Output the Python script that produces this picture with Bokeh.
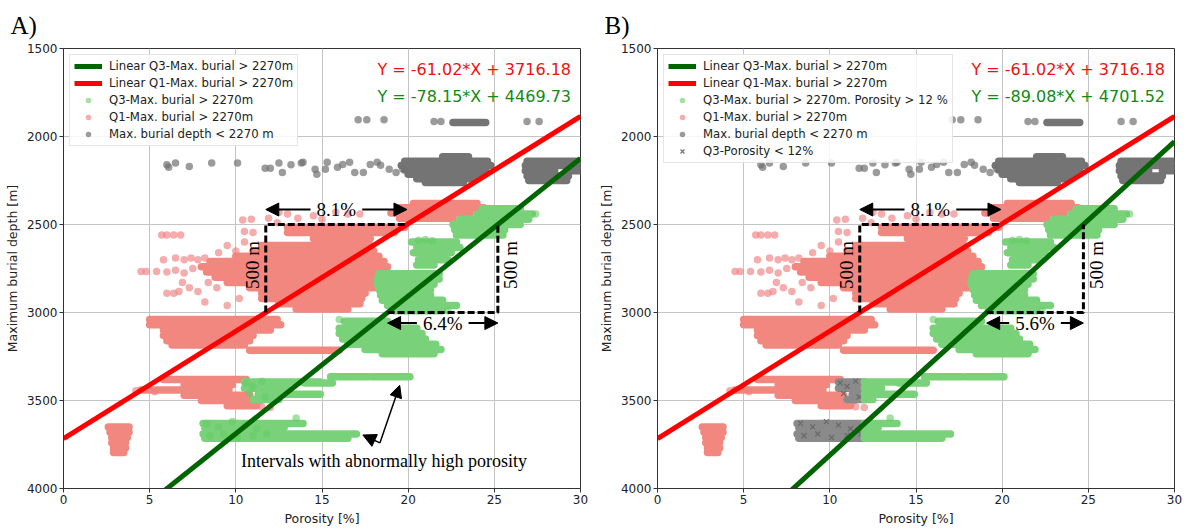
import math
from bokeh.plotting import figure
from bokeh.layouts import row
from bokeh.models import Range1d, FixedTicker, Legend, LegendItem, Label, Arrow, NormalHead
from bokeh.embed import file_html
from bokeh.resources import INLINE

# ---------------- data ----------------
x_ticks = [0, 5, 10, 15, 20, 25, 30]
y_ticks = [1500, 2000, 2500, 3000, 3500, 4000]

q1_fit = (-61.02, 3716.18)
q3_fit_a = (-78.15, 4469.73)
q3_fit_b = (-89.08, 4701.52)
eq_q1 = "Y = -61.02*X + 3716.18"
eq_q3_a = "Y = -78.15*X + 4469.73"
eq_q3_b = "Y = -89.08*X + 4701.52"
pct_q1 = "8.1%"
pct_q3_a = "6.4%"
pct_q3_b = "5.6%"
porosity_cut = 12
box_depths = (2500, 3000)

# dense horizontal runs of points: start porosity, end porosity, depth
gray_row_x0 = [22.6, 22.0, 19.8, 19.6, 19.8, 20.0, 20.5, 21.0, 26.9, 26.8, 26.8, 29.3, 26.9, 27.0]
gray_row_x1 = [24.5, 23.5, 24.6, 24.8, 24.5, 24.4, 24.0, 23.2, 30.0, 30.0, 28.5, 30.0, 29.3, 29.2]
gray_row_y = [1920, 2115, 2140, 2165, 2190, 2215, 2240, 2262, 2140, 2165, 2195, 2195, 2225, 2250]

gray_pt_x = [17.1, 17.6, 18.6, 21.5, 21.9, 26.9, 27.6, 6.0, 6.5, 6.1, 7.3, 8.6, 10.1, 11.7, 12.0, 12.5,
             12.7, 13.2, 13.8, 13.9, 14.6, 14.7, 15.2, 15.3, 15.9, 16.2, 16.6, 16.9, 17.4, 17.8, 18.2,
             18.4, 18.9, 19.3, 19.7]
gray_pt_y = [1905, 1905, 1905, 1915, 1915, 1915, 1915, 2160, 2150, 2175, 2170, 2150, 2150, 2180, 2180, 2150,
             2205, 2160, 2150, 2147, 2186, 2214, 2186, 2147, 2175, 2159, 2147, 2204, 2204, 2159, 2147,
             2164, 2186, 2204, 2186]

q1_row_x0 = [20.3, 19.5, 19.0, 19.5, 13.0, 13.0, 14.5, 11.5, 11.0, 10.0, 8.5, 8.0, 8.3, 8.8, 9.5, 10.8,
             11.5, 11.5, 12.5, 13.5, 5.0, 5.0, 5.8, 5.8, 6.0, 6.3, 10.8, 5.8, 7.0, 4.5, 7.0, 8.0, 9.5,
             2.6, 2.7, 2.8, 2.8, 2.9, 2.9]
q1_row_x1 = [24.0, 24.4, 23.6, 22.6, 19.8, 19.2, 17.8, 17.8, 18.0, 18.3, 18.6, 18.8, 18.8, 18.8, 18.5, 18.0,
             17.5, 17.3, 17.2, 16.5, 12.4, 12.6, 12.0, 11.0, 10.8, 10.5, 16.0, 10.6, 9.8, 9.6, 10.8, 11.4, 11.2,
             3.8, 3.8, 3.7, 3.6, 3.6, 3.5]
q1_row_y = [2380, 2405, 2435, 2465, 2515, 2545, 2580, 2620, 2650, 2680, 2710, 2740, 2770, 2800, 2830, 2860,
            2890, 2920, 2950, 2980, 3040, 3070, 3100, 3130, 3160, 3185, 3215, 3380, 3410, 3440, 3470, 3500, 3530,
            3650, 3680, 3710, 3740, 3770, 3795]

q1_pt_x = [4.5, 4.8, 5.4, 5.7, 6.0, 6.4, 6.8, 5.8, 6.5, 7.0, 7.4, 7.8, 8.2, 6.0, 6.5, 7.0, 6.0, 6.4, 6.7,
           7.3, 7.8, 8.4, 8.9, 10.4, 10.9, 10.5, 11.0, 11.9, 12.4, 12.5, 13.0, 13.6, 14.5, 15.0, 15.8, 16.5,
           17.2, 9.5, 10.0, 10.5, 9.0, 7.5, 6.9, 8.2, 9.5, 10.2, 4.2, 5.3, 11.5, 12.0]
q1_pt_y = [2767, 2767, 2767, 2560, 2560, 2560, 2560, 2700, 2690, 2700, 2690, 2700, 2690, 2770, 2760, 2775,
           2890, 2890, 2880, 2860, 2880, 2830, 2860, 2475, 2470, 2540, 2545, 2465, 2490, 2430, 2440, 2465,
           2450, 2470, 2430, 2440, 2440, 2620, 2650, 2600, 2660, 2750, 2830, 2940, 2960, 2920, 3445, 3450,
           3535, 3540]

q3_row_x0 = [24.3, 24.0, 23.0, 22.6, 22.7, 22.8, 20.2, 20.5, 20.3, 20.6, 20.5, 18.3, 18.2, 18.2, 18.3, 18.4,
             18.5, 18.8, 19.2, 16.3, 16.0, 16.0, 16.2, 16.5, 17.5, 18.5, 15.5, 17.9, 14.0, 10.5, 10.5, 11.3,
             11.0, 8.1, 8.2, 8.1, 8.2]
q3_row_x1 = [26.5, 27.2, 27.0, 26.5, 25.6, 25.5, 22.8, 23.0, 22.5, 22.3, 21.5, 21.8, 21.8, 21.5, 21.3, 21.3,
             22.0, 22.8, 22.0, 18.8, 20.5, 20.8, 21.0, 21.6, 21.9, 21.5, 17.7, 20.1, 15.6, 14.9, 13.0, 14.9,
             12.5, 13.9, 12.8, 17.0, 16.5]
q3_row_y = [2410, 2440, 2470, 2500, 2530, 2560, 2600, 2630, 2660, 2700, 2730, 2780, 2810, 2840, 2870, 2900,
            2930, 2960, 2990, 3050, 3090, 3120, 3150, 3180, 3210, 3235, 3365, 3365, 3400, 3395, 3430, 3465,
            3495, 3630, 3655, 3690, 3715]

q3_pt_x = [27.4, 21.0, 20.6, 21.4, 16.0, 22.3, 10.6, 11.0, 11.5, 10.8, 11.7, 8.3, 9.0, 9.8, 10.5, 11.2,
           8.5, 9.3, 10.1, 11.0, 11.8, 13.5]
q3_pt_y = [2440, 2585, 2590, 2592, 3040, 2990, 3400, 3420, 3390, 3460, 3480, 3630, 3650, 3620, 3640, 3660,
           3700, 3690, 3710, 3700, 3690, 3600]

# ---------------- styles ----------------
C_GRAY = "#707070"
C_GRAY_DENSE = "#747474"
C_Q1 = "#F08080"
C_Q1_DENSE = "#F2877F"
C_Q3 = "#66CC66"
C_Q3_DENSE = "#79D179"
C_RED = "#FF0000"
C_DGREEN = "#006400"
SANS = "DejaVu Sans"
SERIF = "Liberation Serif"
MS = 7.5


def xfit(fit, depth):
    m, b = fit
    return (depth - b) / m


def make_panel(tag, q3_fit, eq_q3, pct_q3, split, width, right_border, q3_label, annotate):
    p = figure(width=width, height=528, x_range=Range1d(0, 30), y_range=Range1d(4000, 1500),
               output_backend="svg", toolbar_location=None,
               min_border_left=63, min_border_right=right_border, min_border_top=46, min_border_bottom=38)
    p.background_fill_color = "white"
    p.border_fill_color = "white"
    p.outline_line_color = "#333333"
    p.outline_line_width = 1

    # panel tag as title
    p.title.text = tag
    p.title.align = "left"
    p.title.offset = -53
    p.title.standoff = 19
    p.title.text_line_height = 1.0
    p.title.text_font = SERIF
    p.title.text_font_size = "25px"
    p.title.text_font_style = "normal"
    p.title.text_color = "black"

    p.xaxis.ticker = FixedTicker(ticks=x_ticks)
    p.yaxis.ticker = FixedTicker(ticks=y_ticks)
    for ax in (p.xaxis[0], p.yaxis[0]):
        ax.major_label_text_font = SANS
        ax.major_label_text_font_size = "12px"
        ax.major_label_text_color = "#222222"
        ax.axis_label_text_font = SANS
        ax.axis_label_text_font_size = "12.5px"
        ax.axis_label_text_font_style = "normal"
        ax.axis_label_text_color = "#222222"
        ax.minor_tick_line_color = None
        ax.major_tick_in = 0
        ax.major_tick_out = 4
        ax.major_tick_line_color = "#333333"
        ax.axis_line_color = "#333333"
        ax.major_label_standoff = 2
        ax.axis_label_standoff = 4
    p.xaxis.axis_label = "Porosity [%]"
    p.yaxis.axis_label = "Maximum burial depth [m]"
    p.grid.grid_line_color = "#c4c4c4"
    p.grid.grid_line_width = 1

    # gray: shallow burial
    p.segment(x0=gray_row_x0, y0=gray_row_y, x1=gray_row_x1, y1=gray_row_y, line_width=MS,
              line_cap="round", line_color=C_GRAY_DENSE)
    r_gray = p.scatter(gray_pt_x, gray_pt_y, size=MS, marker="circle", fill_color=C_GRAY,
                       line_color=None, fill_alpha=0.7)
    # Q1
    p.segment(x0=q1_row_x0, y0=q1_row_y, x1=q1_row_x1, y1=q1_row_y, line_width=MS,
              line_cap="round", line_color=C_Q1_DENSE)
    r_q1 = p.scatter(q1_pt_x, q1_pt_y, size=MS, marker="circle", fill_color=C_Q1,
                     line_color=None, fill_alpha=0.65)
    # Q3
    r_low = None
    if split:
        gx0, gx1, gy, lx0, lx1, ly = [], [], [], [], [], []
        for a, b, d in zip(q3_row_x0, q3_row_x1, q3_row_y):
            if b > porosity_cut:
                gx0.append(max(a, porosity_cut)); gx1.append(b); gy.append(d)
            if a < porosity_cut:
                lx0.append(a); lx1.append(min(b, porosity_cut)); ly.append(d)
        hx = [x for x in q3_pt_x if x >= porosity_cut]
        hy = [y for x, y in zip(q3_pt_x, q3_pt_y) if x >= porosity_cut]
        kx = [x for x in q3_pt_x if x < porosity_cut]
        ky = [y for x, y in zip(q3_pt_x, q3_pt_y) if x < porosity_cut]
        p.segment(x0=lx0, y0=ly, x1=lx1, y1=ly, line_width=MS, line_cap="round",
                  line_color="#8a8a8a")
        r_low = p.scatter(kx, ky, size=7, marker="x", line_color="#666666", line_width=1.3, line_alpha=0.9)
    else:
        gx0, gx1, gy = q3_row_x0, q3_row_x1, q3_row_y
        hx, hy = q3_pt_x, q3_pt_y
    p.segment(x0=gx0, y0=gy, x1=gx1, y1=gy, line_width=MS, line_cap="round",
              line_color=C_Q3_DENSE)
    r_q3 = p.scatter(hx, hy, size=MS, marker="circle", fill_color=C_Q3, line_color=None, fill_alpha=0.6)

    # regression lines
    xs = [0, 30]
    r_l1 = p.line(xs, [q1_fit[0] * x + q1_fit[1] for x in xs], line_width=5, line_color=C_RED)
    r_l3 = p.line(xs, [q3_fit[0] * x + q3_fit[1] for x in xs], line_width=5, line_color=C_DGREEN)

    # dashed boxes
    top, bot = box_depths
    a1, b1 = xfit(q1_fit, bot), xfit(q1_fit, top)
    a3, b3 = xfit(q3_fit, bot), xfit(q3_fit, top)
    p.line([a1, a1, b1], [bot, top, top], line_width=3, line_color="black", line_dash="7 3")
    p.line([a3, b3, b3], [bot, bot, top], line_width=3, line_color="black", line_dash="7 3")

    def dbl_arrow(xa, xb, y, txt):
        mid = (xa + xb) / 2
        gap = 1.5
        for xs_, xe in ((mid - gap, xa), (mid + gap, xb)):
            p.add_layout(Arrow(end=NormalHead(size=13, fill_color="black", line_color="black"),
                               x_start=xs_, y_start=y, x_end=xe, y_end=y,
                               line_width=2, line_color="black"))
        p.add_layout(Label(x=mid, y=y, text=txt, text_align="center", text_baseline="middle",
                           text_font=SERIF, text_font_size="19px", text_color="black"))

    dbl_arrow(a1, b1, 2415, pct_q1)
    dbl_arrow(a3, b3, 3060, pct_q3)
    mid_box = (top + bot) / 2 - 20
    p.add_layout(Label(x=a1, y=mid_box, x_offset=-13, text="500 m", angle=math.pi / 2,
                       text_align="center", text_baseline="middle", text_font=SERIF,
                       text_font_size="19px", text_color="black"))
    p.add_layout(Label(x=b3, y=mid_box, x_offset=13, text="500 m", angle=math.pi / 2,
                       text_align="center", text_baseline="middle", text_font=SERIF,
                       text_font_size="19px", text_color="black"))

    # equations
    p.add_layout(Label(x=29.45, y=1618, text=eq_q1, text_align="right", text_baseline="middle",
                       text_font=SANS, text_font_size="16px", text_color="#ee1111"))
    p.add_layout(Label(x=29.45, y=1770, text=eq_q3, text_align="right", text_baseline="middle",
                       text_font=SANS, text_font_size="16px", text_color="#138a13"))

    if annotate:
        tail = (18.36, 3741)
        for head, size in (((19.51, 3414), 12), ((17.37, 3696), 13)):
            p.add_layout(Arrow(end=NormalHead(size=size, fill_color="black", line_color="black"),
                               x_start=tail[0], y_start=tail[1], x_end=head[0], y_end=head[1],
                               line_width=1.5, line_color="black"))
        p.add_layout(Label(x=10.3, y=3842, text="Intervals with abnormally high porosity",
                           text_align="left", text_baseline="middle", text_font=SERIF,
                           text_font_size="18px", text_color="black"))

    items = [LegendItem(label="Linear Q3-Max. burial > 2270m", renderers=[r_l3]),
             LegendItem(label="Linear Q1-Max. burial > 2270m", renderers=[r_l1]),
             LegendItem(label=q3_label, renderers=[r_q3]),
             LegendItem(label="Q1-Max. burial > 2270m", renderers=[r_q1]),
             LegendItem(label="Max. burial depth < 2270 m", renderers=[r_gray])]
    if r_low is not None:
        items.append(LegendItem(label="Q3-Porosity < 12%", renderers=[r_low]))
    legend = Legend(items=items, location="top_left", margin=6, padding=4, spacing=3,
                    glyph_width=28, glyph_height=14, label_height=14, label_standoff=7,
                    label_text_font=SANS, label_text_font_size="11.7px", label_text_color="#222222",
                    border_line_color="#cccccc", background_fill_alpha=0.85)
    p.add_layout(legend)
    return p


pa = make_panel("A)", q3_fit_a, eq_q3_a, pct_q3_a, False, 594, 14, "Q3-Max. burial > 2270m", True)
pb = make_panel("B)", q3_fit_b, eq_q3_b, pct_q3_b, True, 590, 10,
                "Q3-Max. burial > 2270m. Porosity > 12 %", False)

layout = row(pa, pb, spacing=0)
open("out.html", "w").write(file_html(layout, INLINE))
